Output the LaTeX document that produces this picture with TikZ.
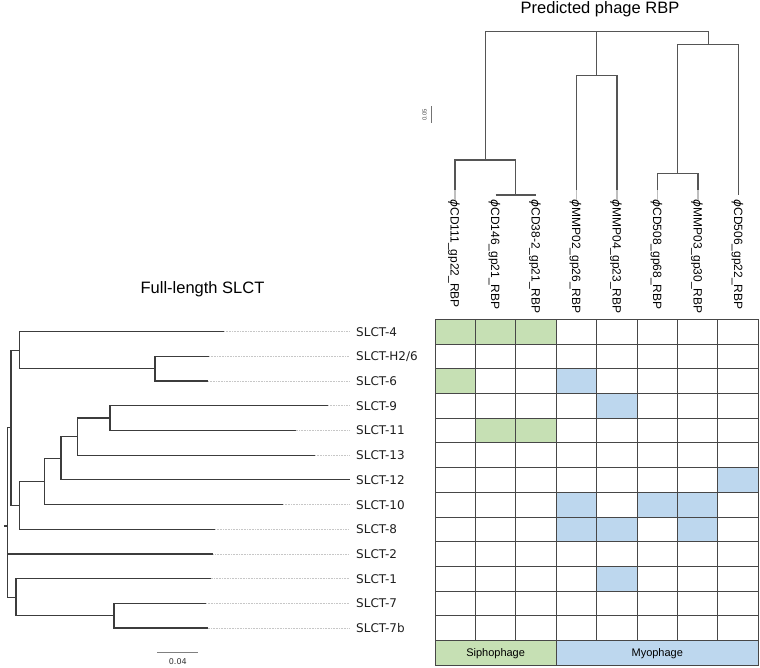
\documentclass[tikz,border=0pt]{standalone}
\usepackage{fontspec}
\setmainfont{Liberation Sans}
\newfontfamily\dejavu{DejaVu Sans}
\newcommand{\phg}{{\dejavu\itshape ϕ}}
\definecolor{sipho}{HTML}{C6E0B4}
\definecolor{myo}{HTML}{BDD7EE}
\definecolor{treeline}{HTML}{3C3C3C}
\definecolor{toptree}{HTML}{555555}
\definecolor{gridc}{HTML}{474747}
\begin{document}
\begin{tikzpicture}[x=1pt,y=-1pt,
  br/.style={draw=treeline, line width=1.25pt},
  tbr/.style={draw=toptree, line width=1.15pt},
  leader/.style={draw=black!22, line width=0.6pt, dash pattern=on 0.8pt off 0.8pt},
  slct/.style={anchor=west, inner xsep=7pt, inner ysep=0pt, text height=9pt, text depth=0pt, font=\dejavu\fontsize{12}{14}\selectfont, text=black!88},
  rbp/.style={rotate=-90, anchor=west, inner sep=0pt, text height=8.6pt, text depth=0pt, font=\fontsize{12}{14}\selectfont},
  ttl/.style={anchor=base, inner sep=0pt, font=\fontsize{16.5}{20}\selectfont},
  legendbox/.style={draw=gridc, line width=0.8pt, minimum height=24.7pt, inner sep=0pt, text height=8pt, text depth=0pt, font=\fontsize{11}{13}\selectfont},
  tail/.style={draw=black!25, line width=1.1pt},
  scalebar/.style={draw=black!50, line width=1.2pt},
  gridline/.style={draw=gridc, line width=0.8pt}]
\useasboundingbox (0,0) rectangle (760,667);

% ---------- titles ----------
\node[ttl] (ttop) at (600,13.3) {Predicted phage RBP};
\node[ttl] (tleft) at (202.5,293.3) {Full-length SLCT};

% ---------- heat map cells ----------
\foreach \ri/\ci/\col in {0/0/sipho,0/1/sipho,0/2/sipho,2/0/sipho,2/3/myo,3/4/myo,4/1/sipho,4/2/sipho,6/7/myo,7/3/myo,7/5/myo,7/6/myo,8/3/myo,8/4/myo,8/6/myo,10/4/myo}
  \fill[\col] ({435+40.4125*\ci},{319.3+24.7*\ri}) rectangle ++(40.4125,24.7);

% ---------- legend row ----------
\node[legendbox, fill=sipho, minimum width=121.24pt] (siph) at (495.62,652.75) {Siphophage};
\node[legendbox, fill=myo, minimum width=202.06pt] (myop) at (657.27,652.75) {Myophage};

% ---------- grid ----------
\foreach \ci in {1,2,4,5,6,7}
  \draw[gridline] ({435+40.4125*\ci},319.3) -- ({435+40.4125*\ci},640.4);
\foreach \ci in {0,3,8}
  \draw[gridline] ({435+40.4125*\ci},319.3) -- ({435+40.4125*\ci},665.1);
\foreach \ri in {0,...,14}
  \draw[gridline] (435,{319.3+24.7*\ri}) -- (758.3,{319.3+24.7*\ri});

% ---------- left tree: leaves ----------
\coordinate (L4)   at (224,331.65);
\coordinate (LH26) at (209,356.35);
\coordinate (L6)   at (208,381.05);
\coordinate (L9)   at (328,405.75);
\coordinate (L11)  at (295.7,430.45);
\coordinate (L13)  at (315,455.15);
\coordinate (L12)  at (350,479.85);
\coordinate (L10)  at (283,504.55);
\coordinate (L8)   at (215,529.25);
\coordinate (L2)   at (213.3,553.95);
\coordinate (L1)   at (210.7,578.65);
\coordinate (L7)   at (206,603.35);
\coordinate (L7b)  at (207.7,628.05);
% internal
\coordinate (nA) at (155,368.7);
\coordinate (nB) at (19.3,350.2);
\coordinate (nC) at (110,418.1);
\coordinate (nD) at (77.3,436.6);
\coordinate (nE) at (61,458.2);
\coordinate (nF) at (44.3,481.4);
\coordinate (nG) at (19.3,505.3);
\coordinate (nH) at (11,427.8);
\coordinate (nI) at (114,615.7);
\coordinate (nJ) at (16,597.2);
\coordinate (R)  at (7.3,526);
\coordinate (R0) at (3.8,526);
\coordinate (R2) at (7.3,553.95);

\draw[br] (LH26) -| (nA) |- (L6);
\draw[br] (L4) -| (nB) |- (nA);
\draw[br] (L9) -| (nC) |- (L11);
\draw[br] (nC) -| (nD) |- (L13);
\draw[br] (nD) -| (nE) |- (L12);
\draw[br] (nE) -| (nF) |- (L10);
\draw[br] (nF) -| (nG) |- (L8);
\draw[br] (nB) -| (nH) |- (nG);
\draw[br] (L7) -| (nI) |- (L7b);
\draw[br] (L1) -| (nJ) |- (nI);
\draw[br] (nH) -| (R) |- (nJ);
\draw[br] (R2) -- (L2);
\draw[br] (R0) -- (R);

% ---------- left tree: labels ----------
\node[slct] (s4)   at (349,331.65) {SLCT-4};
\node[slct] (sH26) at (349,356.35) {SLCT-H2/6};
\node[slct] (s6)   at (349,381.05) {SLCT-6};
\node[slct] (s9)   at (349,405.75) {SLCT-9};
\node[slct] (s11)  at (349,430.45) {SLCT-11};
\node[slct] (s13)  at (349,455.15) {SLCT-13};
\node[slct] (s12)  at (349,479.85) {SLCT-12};
\node[slct] (s10)  at (349,504.55) {SLCT-10};
\node[slct] (s8)   at (349,529.25) {SLCT-8};
\node[slct] (s2)   at (349,553.95) {SLCT-2};
\node[slct] (s1)   at (349,578.65) {SLCT-1};
\node[slct] (s7)   at (349,603.35) {SLCT-7};
\node[slct] (s7b)  at (349,628.05) {SLCT-7b};

\draw[leader] (L4) -- (s4.west);
\draw[leader] (LH26) -- (sH26.west);
\draw[leader] (L6) -- (s6.west);
\draw[leader] (L9) -- (s9.west);
\draw[leader] (L11) -- (s11.west);
\draw[leader] (L13) -- (s13.west);
\draw[leader] (L10) -- (s10.west);
\draw[leader] (L8) -- (s8.west);
\draw[leader] (L2) -- (s2.west);
\draw[leader] (L1) -- (s1.west);
\draw[leader] (L7) -- (s7.west);
\draw[leader] (L7b) -- (s7b.west);

% left scale bar
\coordinate (sbA) at (157.3,652.7);
\coordinate (sbB) at (198.3,652.7);
\draw[scalebar] (sbA) -- (sbB);
\node[inner sep=0pt, font=\dejavu\fontsize{8}{9}\selectfont, text=black!80] (sbl) at (177.8,661.5) {0.04};

% ---------- top tree ----------
\coordinate (t1) at (455,190);
\coordinate (t2) at (495.5,195);
\coordinate (t3) at (536,195);
\coordinate (t4) at (576.5,190);
\coordinate (t5) at (617,190);
\coordinate (t6) at (657.5,190);
\coordinate (t7) at (698,190);
\coordinate (t8) at (738.5,195);
\coordinate (pL)   at (485.4,160);
\coordinate (p45)  at (596.75,75.7);
\coordinate (p67)  at (677.75,173.3);
\coordinate (p678) at (708.1,44.3);
\coordinate (proot) at (596.75,31.7);
\coordinate (p23)  at (515.75,195);

\draw[tbr] (t2) -- (t3);
\draw[tbr] (t1) |- (pL) -| (p23);
\draw[tbr] (t4) |- (p45) -| (t5);
\draw[tbr] (t6) |- (p67) -| (t7);
\draw[tbr] (p67) |- (p678) -| (t8);
\draw[tbr] (pL) |- (proot) -| (p678);
\draw[tbr] (proot) -- (p45);

% top labels
\node[rbp] (r1) at (455,199.5)   {\phg CD111\_gp22\_RBP};
\node[rbp] (r2) at (495.5,199.5) {\phg CD146\_gp21\_RBP};
\node[rbp] (r3) at (536,199.5)   {\phg CD38-2\_gp21\_RBP};
\node[rbp] (r4) at (576.5,199.5) {\phg MMP02\_gp26\_RBP};
\node[rbp] (r5) at (617,199.5)   {\phg MMP04\_gp23\_RBP};
\node[rbp] (r6) at (657.5,199.5) {\phg CD508\_gp68\_RBP};
\node[rbp] (r7) at (698,199.5)   {\phg MMP03\_gp30\_RBP};
\node[rbp] (r8) at (738.5,199.5) {\phg CD506\_gp22\_RBP};

\draw[tail] (t1) -- (r1.west);
\draw[tail] (t4) -- (r4.west);
\draw[tail] (t5) -- (r5.west);
\draw[tail] (t6) -- (r6.west);
\draw[tail] (t7) -- (r7.west);

% top scale bar
\coordinate (tsA) at (431.7,106);
\coordinate (tsB) at (431.7,123);
\draw[draw=black!55, line width=0.9pt] (tsA) -- (tsB);
\node[rotate=90, inner sep=0pt, font=\fontsize{6}{7}\selectfont, text=black!70] (tsl) at (424.5,114.5) {0.05};
\end{tikzpicture}
\end{document}
